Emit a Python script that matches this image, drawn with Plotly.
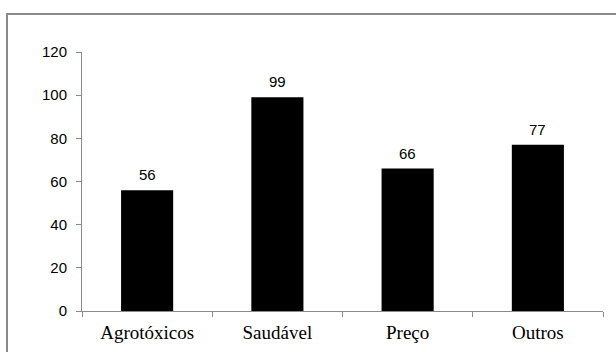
import plotly.graph_objects as go

# Survey reasons and response counts
categories = ["Agrotóxicos", "Saudável", "Preço", "Outros"]
counts = [56, 99, 66, 77]
y_ticks = [0, 20, 40, 60, 80, 100, 120]

W, H = 616, 352
L, R, T, B = 82, 13, 52, 41
plot_w = W - L - R
plot_h = H - T - B


def px_to_paper_x(px):
    return (px - L) / plot_w


def px_to_paper_y(py):
    return (H - B - py) / plot_h


SANS = "Liberation Sans"
SERIF = "Liberation Serif"

fig = go.Figure(
    go.Bar(
        x=categories,
        y=counts,
        marker=dict(color="#000000", line=dict(width=0)),
        hoverinfo="x+y",
    )
)

# Value labels above each bar
for cat, val in zip(categories, counts):
    fig.add_annotation(
        x=cat, y=val, text=str(val),
        showarrow=False, yanchor="bottom", yshift=5,
        font=dict(family=SANS, size=15, color="#000000"),
    )

# Outer frame: a bordered empty box whose right and bottom sides fall off the canvas
fig.add_annotation(
    xref="paper", yref="paper",
    x=px_to_paper_x(6), y=px_to_paper_y(13),
    xanchor="left", yanchor="top",
    text=" ", showarrow=False,
    width=700, height=420,
    bordercolor="#8a8a8a", borderwidth=2, borderpad=0,
    bgcolor="rgba(0,0,0,0)",
)

fig.update_layout(
    width=W, height=H,
    margin=dict(l=L, r=R, t=T, b=B, autoexpand=False),
    paper_bgcolor="#ffffff",
    plot_bgcolor="#ffffff",
    bargap=0.6,
    showlegend=False,
    xaxis=dict(
        showline=True, linecolor="#8a8a8a", linewidth=1,
        ticks="outside", tickson="boundaries", ticklen=5, tickcolor="#8a8a8a",
        tickfont=dict(family=SERIF, size=19, color="#000000"),
        ticklabelstandoff=4,
        showgrid=False, zeroline=False,
    ),
    yaxis=dict(
        range=[0, 120],
        tickvals=y_ticks,
        showline=True, linecolor="#8a8a8a", linewidth=1,
        ticks="outside", ticklen=5, tickcolor="#8a8a8a",
        tickfont=dict(family=SANS, size=15, color="#000000"),
        ticklabelstandoff=6,
        showgrid=False, zeroline=False,
    ),
)

fig.write_html("out.html", config={"displayModeBar": False})
